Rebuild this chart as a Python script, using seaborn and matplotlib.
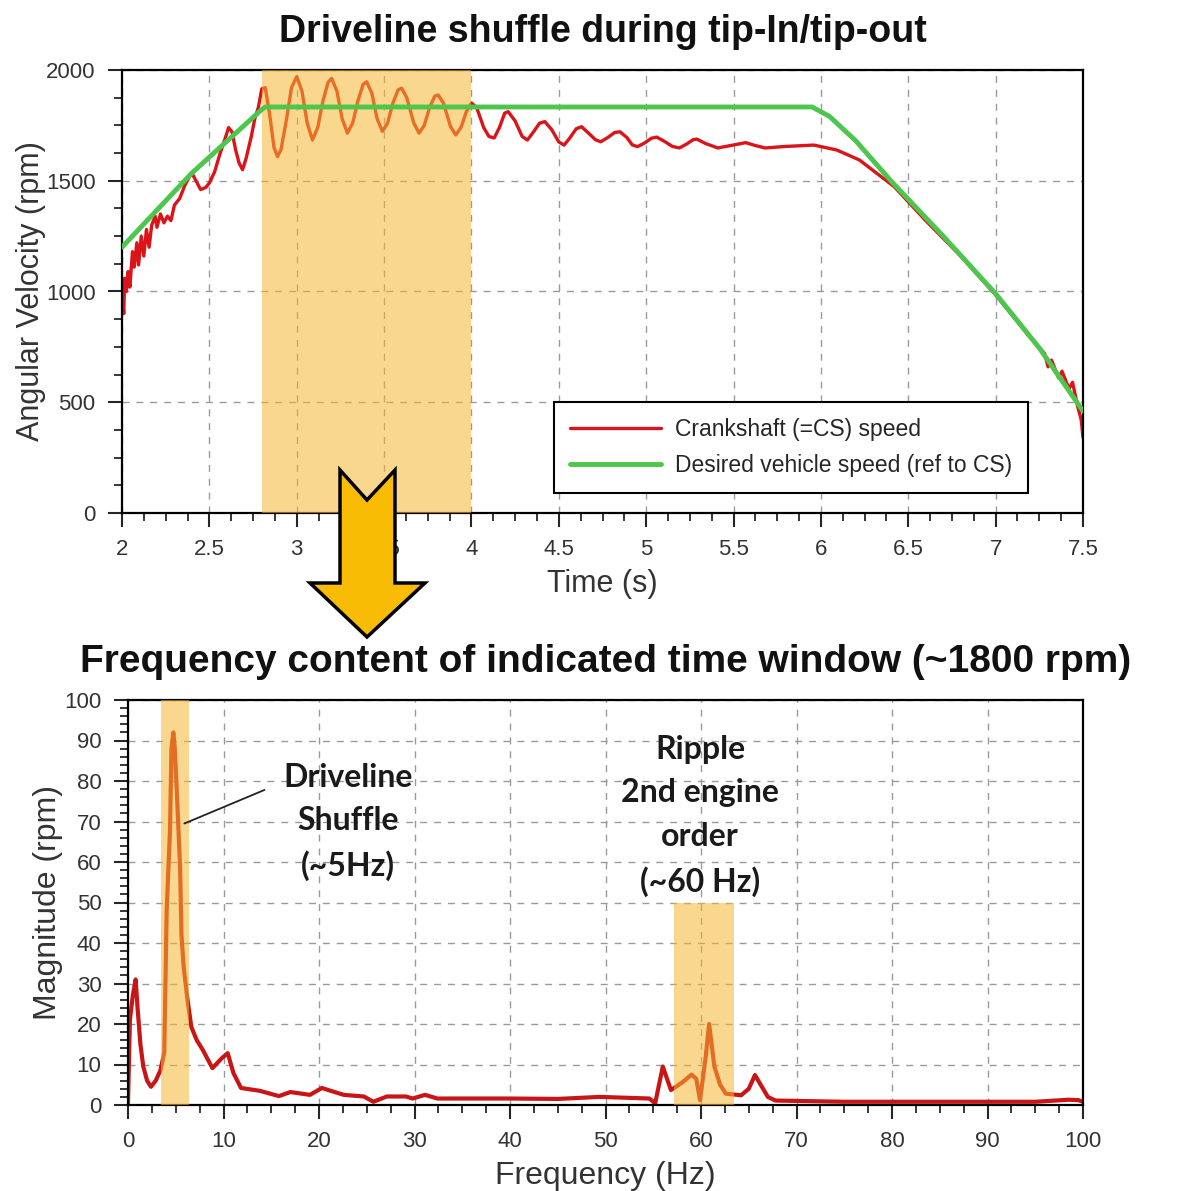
import matplotlib
matplotlib.use("Agg")
import matplotlib.pyplot as plt
from matplotlib.patches import Polygon
from matplotlib.ticker import MultipleLocator
import seaborn as sns

# --- top panel: crankshaft speed vs desired speed ---
t_cs = [2.000, 2.005, 2.010, 2.015, 2.025, 2.035, 2.045, 2.06, 2.07, 2.085, 2.095, 2.11,
        2.125, 2.14, 2.155, 2.17, 2.19, 2.20, 2.22, 2.24, 2.26, 2.28, 2.30, 2.33, 2.36,
        2.38, 2.40, 2.43, 2.45, 2.48, 2.50, 2.53, 2.56, 2.59, 2.61, 2.63, 2.65, 2.67, 2.69,
        2.71, 2.74, 2.76, 2.78, 2.80, 2.82, 2.845, 2.87, 2.89, 2.91, 2.94, 2.97, 3.00, 3.03,
        3.06, 3.09, 3.12, 3.15, 3.18, 3.20, 3.23, 3.26, 3.29, 3.32, 3.35, 3.38, 3.40, 3.43,
        3.46, 3.49, 3.52, 3.55, 3.58, 3.60, 3.63, 3.67, 3.70, 3.73, 3.76, 3.79, 3.81, 3.84,
        3.88, 3.91, 3.94, 3.97, 4.00, 4.03, 4.07, 4.10, 4.13, 4.16, 4.19, 4.21, 4.25, 4.29,
        4.32, 4.35, 4.39, 4.42, 4.46, 4.50, 4.53, 4.56, 4.60, 4.63, 4.67, 4.71, 4.74, 4.78,
        4.82, 4.85, 4.89, 4.92, 4.95, 4.99, 5.03, 5.06, 5.10, 5.15, 5.19, 5.23, 5.27, 5.29,
        5.34, 5.41, 5.49, 5.57, 5.62, 5.68, 5.80, 5.96, 6.09, 6.22, 6.42, 6.60, 6.80, 7.00,
        7.20, 7.28, 7.30, 7.32, 7.36, 7.38, 7.42, 7.44, 7.47, 7.49, 7.50]
rpm_cs = [1040, 960, 900, 1060, 1000, 1090, 1020, 1180, 1110, 1220, 1120, 1250,
          1160, 1280, 1200, 1300, 1340, 1290, 1350, 1310, 1340, 1320, 1390, 1420, 1480,
          1510, 1535, 1490, 1460, 1470, 1490, 1540, 1620, 1690, 1740, 1720, 1640, 1580, 1550,
          1600, 1700, 1780, 1830, 1915, 1920, 1800, 1650, 1609, 1640, 1770, 1920, 1970, 1905,
          1760, 1684, 1740, 1860, 1945, 1962, 1905, 1780, 1715, 1760, 1860, 1935, 1947, 1895,
          1780, 1723, 1760, 1850, 1910, 1918, 1875, 1760, 1715, 1750, 1830, 1882, 1887, 1850,
          1745, 1707, 1740, 1810, 1851, 1830, 1740, 1700, 1693, 1740, 1805, 1812, 1770, 1700,
          1684, 1715, 1760, 1767, 1730, 1675, 1661, 1690, 1735, 1744, 1715, 1685, 1676, 1695,
          1718, 1721, 1695, 1662, 1654, 1670, 1692, 1697, 1680, 1655, 1648, 1665, 1686, 1688,
          1668, 1648, 1660, 1672, 1660, 1648, 1655, 1661, 1639, 1594, 1473, 1320, 1160, 985,
          790, 720, 660, 690, 610, 640, 560, 590, 480, 420, 340]

t_ref = [2.0, 2.4, 2.8, 2.82, 5.95, 6.05, 6.2, 6.4, 6.7, 7.0, 7.25, 7.5]
rpm_ref = [1200, 1535, 1822, 1833, 1833, 1790, 1680, 1500, 1250, 990, 745, 460]

window_top = (2.8, 4.0)

# --- bottom panel: spectrum ---
freq = [0.0, 0.2, 0.5, 0.8, 1.0, 1.3, 1.6, 2.0, 2.4, 2.9, 3.4, 3.8, 4.05, 4.4, 4.55, 4.75,
        4.9, 5.1, 5.45, 5.6, 5.83, 6.23, 6.63, 7.2, 7.83, 8.84, 9.8, 10.44, 11.04, 11.83,
        13.8, 15.8, 17.0, 19.05, 20.3, 21.5, 22.6, 24.7, 25.7, 27.1, 29.1, 29.8, 31.1, 32.4,
        40.0, 45.0, 49.4, 52.0, 54.6, 55.2, 56.0, 56.85, 58.0, 59.0, 59.5, 59.9, 60.5, 60.85,
        61.4, 62.0, 62.6, 64.2, 65.0, 65.65, 67.0, 67.8, 75.0, 85.0, 95.0, 98.5, 99.5, 100.0]
mag = [0.5, 21, 27, 31, 24, 15, 9.5, 6, 4.5, 6, 8.6, 13, 48, 68, 88, 92,
       88, 78, 59, 42, 34, 26, 19.3, 16, 13.6, 9.1, 11.5, 12.8, 7.9, 4.2,
       3.5, 2.2, 3.2, 2.5, 4.2, 3.3, 2.5, 2.1, 0.8, 2.1, 2.1, 1.6, 2.5, 1.6,
       1.6, 1.5, 2.0, 1.8, 1.6, 0.4, 9.5, 3.7, 5.5, 7.5, 6.5, 1.2, 12, 20,
       9.5, 5, 2.8, 2.4, 4, 7.4, 2, 1.1, 0.8, 0.8, 0.8, 1.3, 1.2, 0.8]

band_shuffle = (3.5, 6.4)
band_ripple = (57.2, 63.5, 50)

sns.set_style("white")
plt.rcParams['font.family'] = ['Liberation Sans', 'DejaVu Sans']

W, H = 1197, 1191
fig = plt.figure(figsize=(W / 100, H / 100), dpi=100)

def px(x0, y0, x1, y1):
    return [x0 / W, 1 - y1 / H, (x1 - x0) / W, (y1 - y0) / H]

shade = '#F7B731'
grid_kw = dict(color='#9a9a9a', linestyle=(0, (5, 5)), linewidth=1.0)

def style_axes(ax):
    for s in ax.spines.values():
        s.set_color('black')
        s.set_linewidth(1.6)
    ax.tick_params(which='major', direction='out', length=10, width=1.5, pad=9,
                   labelsize=16, labelcolor='#333333', bottom=True, left=True)
    ax.tick_params(which='minor', direction='out', length=6, width=1.3,
                   bottom=True, left=True)
    ax.grid(True, which='major', **grid_kw)
    ax.set_axisbelow(True)

# top
ax1 = fig.add_axes(px(122, 70, 1083, 513))
sns.lineplot(x=t_cs, y=rpm_cs, ax=ax1, color='#DA1418', linewidth=2.4, zorder=2,
             label='Crankshaft (=CS) speed', sort=False)
ax1.axvspan(*window_top, color=shade, alpha=0.55, lw=0, zorder=3)
sns.lineplot(x=t_ref, y=rpm_ref, ax=ax1, color='#4CC64C', linewidth=3.5, zorder=4,
             label='Desired vehicle speed (ref to CS)', sort=False)
ax1.set_xlim(2, 7.5)
ax1.set_ylim(0, 2000)
ax1.xaxis.set_major_locator(MultipleLocator(0.5))
ax1.xaxis.set_minor_locator(MultipleLocator(0.125))
ax1.yaxis.set_major_locator(MultipleLocator(500))
ax1.yaxis.set_minor_locator(MultipleLocator(125))
ax1.set_xticklabels([f'{v:g}' for v in ax1.get_xticks()])
style_axes(ax1)
ax1.set_xlabel('Time (s)', fontsize=22, color='#333333', labelpad=6)
ax1.set_ylabel('Angular Velocity (rpm)', fontsize=22, color='#333333', labelpad=0)
leg = ax1.legend(loc='lower right', bbox_to_anchor=(0.943, 0.045), fontsize=16.5,
                 frameon=True, fancybox=False, edgecolor='black', framealpha=1,
                 handlelength=4.0, handletextpad=0.6, borderpad=0.7, labelspacing=0.55,
                 borderaxespad=0)
leg.get_frame().set_linewidth(1.5)
leg.set_zorder(6)

# bottom
ax2 = fig.add_axes(px(128, 700, 1083, 1105))
sns.lineplot(x=freq, y=mag, ax=ax2, color='#C81616', linewidth=3, zorder=2, sort=False)
ax2.axvspan(*band_shuffle, color=shade, alpha=0.55, lw=0, zorder=3)
ax2.fill_between(band_ripple[:2], 0, band_ripple[2], color=shade, alpha=0.55, lw=0, zorder=3)
ax2.set_xlim(0, 100)
ax2.set_ylim(0, 100)
ax2.xaxis.set_major_locator(MultipleLocator(10))
ax2.xaxis.set_minor_locator(MultipleLocator(2.5))
ax2.yaxis.set_major_locator(MultipleLocator(10))
ax2.yaxis.set_minor_locator(MultipleLocator(2))
style_axes(ax2)
ax2.set_xlabel('Frequency (Hz)', fontsize=23, color='#333333', labelpad=6)
ax2.set_ylabel('Magnitude (rpm)', fontsize=23, color='#333333', labelpad=1)

note_kw = dict(fontsize=23, fontweight='bold', family=['Lato', 'DejaVu Sans'],
               color='#1a1a1a', ha='center', va='center', linespacing=1.6, zorder=7)
ax2.annotate('', xy=(5.9, 69.5), xytext=(14.3, 77.8),
             arrowprops=dict(arrowstyle='-', color='#222222', lw=1.3,
                             shrinkA=0, shrinkB=0))
ax2.text(23.0, 69.9, 'Driveline\nShuffle\n(~5Hz)', **note_kw)
ax2.text(59.9, 71.4, 'Ripple\n2nd engine\norder\n(~60 Hz)', **note_kw)

# titles
fig.text(603 / W, 1 - 32 / H, 'Driveline shuffle during tip-In/tip-out',
         ha='center', va='center', fontsize=27, fontweight='bold', color='#111111')
fig.text(606 / W, 1 - 662 / H, 'Frequency content of indicated time window (~1800 rpm)',
         ha='center', va='center', fontsize=28, fontweight='bold', color='#111111')

# big arrow linking the two panels
arrow_px = [(340, 470), (367, 500), (395, 470), (395, 583), (425, 583),
            (367, 637), (310, 583), (340, 583)]
arrow = Polygon([(x / W, 1 - y / H) for x, y in arrow_px], closed=True,
                transform=fig.transFigure, facecolor='#F9BC05', edgecolor='black',
                linewidth=2.5, zorder=10)
fig.patches.append(arrow)

fig.savefig('out.png', dpi=100)
